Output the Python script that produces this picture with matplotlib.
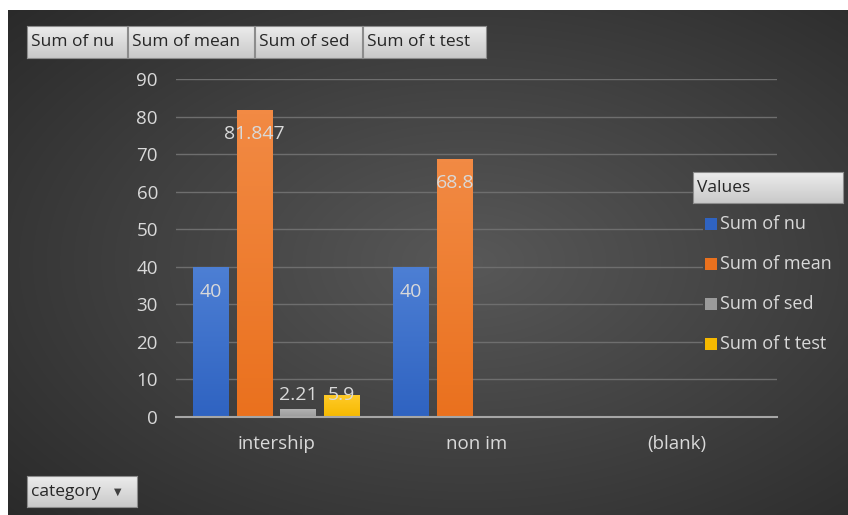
import numpy as np
import matplotlib.pyplot as plt
from matplotlib.colors import to_rgb

# Pivot chart data
categories = ['intership', 'non im', '(blank)']
series_names = ['Sum of nu', 'Sum of mean', 'Sum of sed', 'Sum of t test']
sum_nu = [40, 40, np.nan]
sum_mean = [81.847, 68.8, np.nan]
sum_sed = [2.21, np.nan, np.nan]
sum_ttest = [5.9, np.nan, np.nan]
yticks = [0, 10, 20, 30, 40, 50, 60, 70, 80, 90]

W, H = 848, 515
FONT = 'Open Sans'
LABEL_COLOR = '#d9d9d9'

# (top colour, bottom colour) per series
bar_colors = [('#4d7fd4', '#2f63c1'),
              ('#f28a44', '#ea711e'),
              ('#b5b5b5', '#9b9b9b'),
              ('#ffcb2a', '#f6b900')]


def px(x0, y0, x1, y1):
    """pixel box (top-left origin) -> figure fraction rect"""
    return [x0 / W, 1 - y1 / H, (x1 - x0) / W, (y1 - y0) / H]


def vgrad(top, bottom, n=64):
    a = np.array(to_rgb(top))
    b = np.array(to_rgb(bottom))
    t = np.linspace(0, 1, n)[:, None]
    return (a * (1 - t) + b * t)[:, None, :]


def bg_image(x0, y0, x1, y1):
    """radial dark gradient of the chart area, for a pixel box"""
    yy, xx = np.mgrid[y0:y1:200j, x0:x1:300j]
    u = (xx - 8) / (W - 8)
    v = (yy - 10) / (H - 10)
    r = np.sqrt(((u - 0.55) / 0.75) ** 2 + ((v - 0.5) / 0.75) ** 2)
    r = np.clip(r, 0, 1)[..., None]
    c0 = np.array([0x58, 0x58, 0x58]) / 255
    c1 = np.array([0x2a, 0x2a, 0x2a]) / 255
    return c0 * (1 - r) + c1 * r


def button(fig, x0, y0, x1, y1, text, size=12.5, arrow=False):
    ax = fig.add_axes(px(x0, y0, x1, y1))
    ax.imshow(vgrad('#ececec', '#c9c9c9'), aspect='auto', extent=(0, 1, 0, 1))
    ax.set_xlim(0, 1)
    ax.set_ylim(0, 1)
    ax.set_xticks([])
    ax.set_yticks([])
    for s in ax.spines.values():
        s.set_color('#8c8c8c')
        s.set_linewidth(0.8)
    ax.text(4 / (x1 - x0), 0.5, text, fontsize=size, family=FONT,
            color='#262626', va='center', ha='left')
    if arrow:
        ax.text(1 - 19 / (x1 - x0), 0.5, '\u25bc', fontsize=7,
                family='DejaVu Sans', color='#404040', va='center', ha='center')
    return ax


fig = plt.figure(figsize=(W / 100, H / 100), dpi=100)
fig.patch.set_facecolor('white')

# dark radial background
bg = fig.add_axes(px(8, 10, W, H))
bg.imshow(bg_image(8, 10, W, H), aspect='auto', extent=(0, 1, 0, 1),
          interpolation='bilinear')
bg.axis('off')

# main plot
ax = fig.add_axes(px(176, 79, 777, 417))
ax.set_facecolor('none')
ax.set_yticks(yticks)
ax.grid(axis='y', color='#6e6e6e', linewidth=1.0)
ax.set_axisbelow(True)
for s in ['top', 'right', 'left']:
    ax.spines[s].set_visible(False)
ax.spines['bottom'].set_color('#a6a6a6')
ax.spines['bottom'].set_linewidth(1.5)
ax.spines['bottom'].set_zorder(5)
ax.tick_params(axis='y', length=0, pad=13, labelsize=13.5, labelcolor=LABEL_COLOR)
ax.tick_params(axis='x', length=0, pad=13, labelsize=13.5, labelcolor=LABEL_COLOR)
x = np.arange(len(categories)) + 0.5
ax.set_xticks(x)
ax.set_xticklabels(categories)
for lab in ax.get_xticklabels() + ax.get_yticklabels():
    lab.set_family(FONT)

step = 0.217
width = 0.178
all_series = [sum_nu, sum_mean, sum_sed, sum_ttest]
for i, (vals, (ctop, cbot)) in enumerate(zip(all_series, bar_colors)):
    xs = x + (i - 1.5) * step
    for xi, v in zip(xs, vals):
        if np.isnan(v):
            continue
        bar = ax.bar(xi, v, width=width, color=cbot, zorder=2)[0]
        im = ax.imshow(vgrad(ctop, cbot), aspect='auto', zorder=2.5,
                       extent=(xi - width / 2, xi + width / 2, 0, v))
        im.set_clip_path(bar)
        ty = max(v - 6.6, 5.9)
        ax.text(xi, ty, f'{v:g}', ha='center', va='center', fontsize=14,
                family=FONT, color=LABEL_COLOR, zorder=4)
ax.set_xlim(0, 3)
ax.set_ylim(0, 90)
ax.set_aspect('auto')

# field buttons at top
tops = [(27, 127), (128, 254), (255, 362), (363, 486)]
for (x0, x1), name in zip(tops, series_names):
    button(fig, x0, 26, x1, 58, name)

# category button
button(fig, 27, 476, 137, 507, 'category', arrow=True)

# legend: opaque background hides gridlines behind it
lg = fig.add_axes(px(703, 204, 843, 362))
lg.imshow(bg_image(703, 204, 843, 362), aspect='auto', extent=(0, 1, 0, 1))
lg.axis('off')
button(fig, 693, 172, 843, 203, 'Values')
leg_y = [224, 264, 304, 344]
for yc, name, (ctop, cbot) in zip(leg_y, series_names, bar_colors):
    fig.add_artist(plt.Rectangle((705 / W, 1 - (yc + 6) / H), 12 / W, 12 / H,
                                 transform=fig.transFigure, facecolor=cbot,
                                 edgecolor='none'))
    fig.text(720 / W, 1 - yc / H, name, fontsize=13, family=FONT,
             color=LABEL_COLOR, va='center', ha='left')

fig.savefig('out.png', dpi=100, facecolor=fig.get_facecolor())
